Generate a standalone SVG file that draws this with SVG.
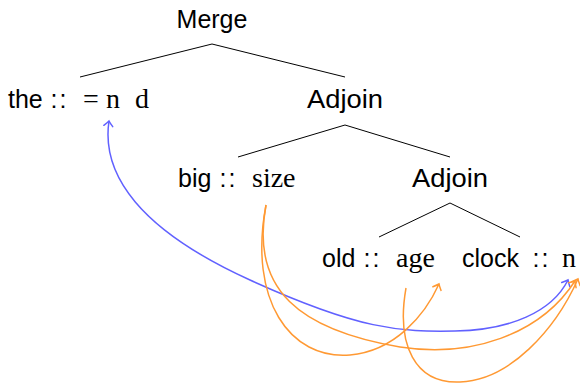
<svg xmlns="http://www.w3.org/2000/svg" width="580" height="383" viewBox="0 0 580 383">
  <style>
    .sf { font-family: "Liberation Sans", Arial, sans-serif; font-size: 25px; fill: #000; }
    .rm { font-family: "Liberation Serif", "Times New Roman", serif; font-size: 28px; fill: #000; }
    .edge { stroke: #000; stroke-width: 1; fill: none; }
    .blue { stroke: #6161ff; stroke-width: 1.5; fill: none; }
    .orange { stroke: #ff9933; stroke-width: 1.5; fill: none; }
  </style>
  <defs>
    <marker id="tipBlue" markerUnits="userSpaceOnUse" viewBox="-8 -8 16 16" markerWidth="16" markerHeight="16" refX="0" refY="0" orient="auto-start-reverse" overflow="visible">
      <path d="M-5,-4.5 Q-1.5,-1 0,0 Q-1.5,1 -5,4.5" fill="none" stroke="#6161ff" stroke-width="1.5" stroke-linecap="round"/>
    </marker>
    <marker id="tipOrange" markerUnits="userSpaceOnUse" viewBox="-8 -8 16 16" markerWidth="16" markerHeight="16" refX="0" refY="0" orient="auto" overflow="visible">
      <path d="M-5,-4.5 Q-1.5,-1 0,0 Q-1.5,1 -5,4.5" fill="none" stroke="#ff9933" stroke-width="1.5" stroke-linecap="round"/>
    </marker>
  </defs>

  <!-- tree branches -->
  <g id="branches">
    <path class="edge" d="M80,77 L212,44 L345,77"/>
    <path class="edge" d="M238,157 L345,125 L450,157"/>
    <path class="edge" d="M379,237 L450,203 L520,237"/>
  </g>

  <g id="merge">
    <text class="sf" x="212" y="28" text-anchor="middle">Merge</text>
  </g>

  <g id="the">
    <text class="sf" x="8" y="108">the</text>
    <text class="sf" y="108"><tspan x="50.5">:</tspan><tspan x="59.5">:</tspan></text>
    <text class="rm" x="83" y="108">=</text>
    <text class="rm" x="106" y="108">n</text>
    <text class="rm" x="135" y="108">d</text>
  </g>

  <g id="adjoin-top">
    <text class="sf" x="345" y="108" text-anchor="middle" textLength="76" lengthAdjust="spacingAndGlyphs">Adjoin</text>
  </g>

  <g id="big">
    <text class="sf" x="178" y="187">big</text>
    <text class="sf" y="187"><tspan x="219.5">:</tspan><tspan x="228.5">:</tspan></text>
    <text class="rm" x="252" y="187">size</text>
  </g>

  <g id="adjoin-inner">
    <text class="sf" x="450" y="187" text-anchor="middle" textLength="76" lengthAdjust="spacingAndGlyphs">Adjoin</text>
  </g>

  <g id="old">
    <text class="sf" x="322" y="267">old</text>
    <text class="sf" y="267"><tspan x="363.5">:</tspan><tspan x="372.5">:</tspan></text>
    <text class="rm" x="396" y="267">age</text>
  </g>

  <g id="clock">
    <text class="sf" x="462" y="267">clock</text>
    <text class="sf" y="267"><tspan x="532.5">:</tspan><tspan x="541.5">:</tspan></text>
    <text class="rm" x="562" y="267">n</text>
  </g>

  <!-- feature links -->
  <g id="links">
    <path class="blue" marker-start="url(#tipBlue)" marker-end="url(#tipBlue)" d="M109,121 C101,175 140,230 250,280 C360,330 400,332 455,331 C510,330 552,312 568,280"/>
    <path class="orange" marker-end="url(#tipOrange)" d="M266,205 C248,300 290,360 350,355 C395,351 425,315 439,284"/>
    <path class="orange" marker-end="url(#tipOrange)" d="M266,205 C250,290 300,330 400,347 C470,358 540,335 575,281"/>
    <path class="orange" marker-end="url(#tipOrange)" d="M406,288 C396,345 415,384 460,382 C510,380 555,330 578,279"/>
  </g>
</svg>
